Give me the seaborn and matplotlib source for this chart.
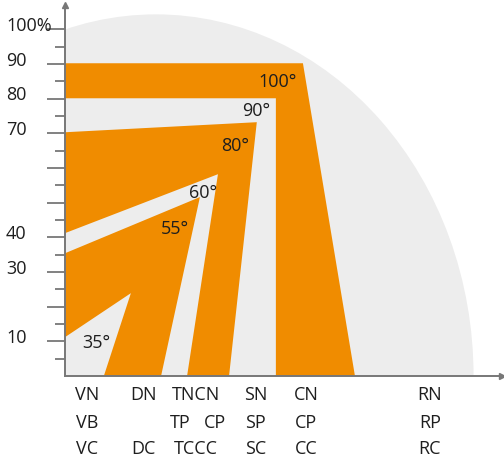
import numpy as np
import matplotlib.pyplot as plt
import matplotlib.transforms as mtransforms
from matplotlib.patches import Ellipse
import seaborn as sns

# outline vertices of the three orange zones (x, y in % of the axis scale)
zone100_x = [0, 68.6, 83.6, 60.8, 60.8, 0]
zone100_y = [90.2, 90.2, 0, 0, 80.1, 80.1]
zone80_x = [0, 55.3, 47.3, 35.2, 44.1, 0]
zone80_y = [70.3, 73.2, 0, 0, 58.2, 41.2]
zone55_x = [0, 38.9, 27.7, 11.2, 19.0, 0]
zone55_y = [35.4, 51.6, 0, 0, 23.9, 11.2]

angle_labels = ['100°', '90°', '80°', '60°', '55°', '35°']
angle_x = [61.4, 55.0, 49.0, 39.8, 31.7, 8.9]
angle_y = [84.7, 76.4, 66.3, 52.7, 42.4, 9.5]

ytick_labels = ['10', '30', '40', '70', '80', '90', '100%']
ytick_values = [10, 30, 40, 70, 80, 90, 100]

col_rows = [
    ['VN', 'VB', 'VC'],
    ['DN', '', 'DC'],
    ['TNCN', '', 'TCCC'],
    ['SN', 'SP', 'SC'],
    ['CN', 'CP', 'CC'],
    ['RN', 'RP', 'RC'],
]
col_x = [6.3, 22.5, 37.8, 55.0, 69.5, 105.2]
extra_labels = ['TP', 'CP']
extra_x = [33.1, 43.2]

ORANGE = '#f08c00'
GREY = '#ededed'
AXIS = '#777777'
TXT = '#1e1e1e'
FS = 13

sns.set_theme(style='white')
plt.rcParams['font.family'] = ['Open Sans', 'DejaVu Sans']

fig = plt.figure(figsize=(5.04, 4.66), dpi=100)
ax = fig.add_axes([65 / 504, 90 / 466, 437 / 504, 371 / 466])
ax.set_xlim(0, 126)
ax.set_ylim(0, 107)

# background half ellipse
ax.add_patch(Ellipse((26.2, 0), 2 * 91.6, 2 * 104.3, color=GREY, lw=0, zorder=1))

for xs, ys in [(zone100_x, zone100_y), (zone80_x, zone80_y), (zone55_x, zone55_y)]:
    ax.fill(xs, ys, color=ORANGE, lw=0, zorder=2)

for lab, x, y in zip(angle_labels, angle_x, angle_y):
    ax.text(x, y, lab, ha='center', va='center', fontsize=FS, color=TXT, zorder=3)

# axes styling
for s in ['top', 'right']:
    ax.spines[s].set_visible(False)
for s in ['left', 'bottom']:
    ax.spines[s].set_color(AXIS)
    ax.spines[s].set_linewidth(1.4)
    ax.spines[s].set_zorder(4)
ax.plot(1, 0, '>', color=AXIS, ms=4, transform=ax.get_yaxis_transform(), clip_on=False)
ax.plot(0, 1, '^', color=AXIS, ms=4, transform=ax.get_xaxis_transform(), clip_on=False)

ax.set_xticks([])
ax.set_yticks(np.arange(10, 101, 10))
ax.set_yticks(np.arange(5, 100, 10), minor=True)
ax.tick_params(axis='y', which='major', length=13, width=1.3, color=AXIS, left=True, labelleft=False)
ax.tick_params(axis='y', which='minor', length=7, width=1.3, color=AXIS, left=True)

trans = mtransforms.blended_transform_factory(fig.transFigure, ax.transData)
for lab, v in zip(ytick_labels, ytick_values):
    ax.text(6 / 504, v + 0.9, lab, transform=trans, ha='left', va='center',
            fontsize=FS, color=TXT)

row_y = [-5.5, -13.5, -21.0]
for labs, x in zip(col_rows, col_x):
    for lab, y in zip(labs, row_y):
        if lab:
            ax.text(x, y, lab, ha='center', va='center', fontsize=FS,
                    color=TXT, clip_on=False)
for lab, x in zip(extra_labels, extra_x):
    ax.text(x, row_y[1], lab, ha='center', va='center', fontsize=FS,
            color=TXT, clip_on=False)

fig.savefig('out.png', dpi=100)
